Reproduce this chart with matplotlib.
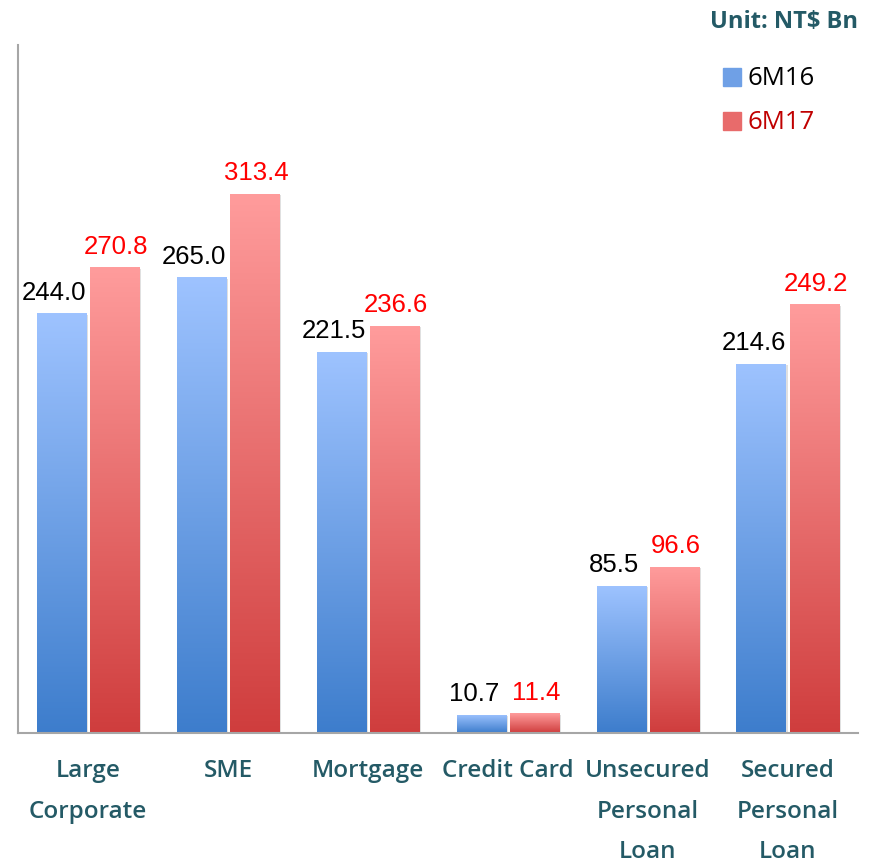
import numpy as np
import matplotlib.pyplot as plt
from matplotlib.colors import LinearSegmentedColormap
from matplotlib.patches import Rectangle

categories = ["Large\nCorporate", "SME", "Mortgage", "Credit Card",
              "Unsecured\nPersonal\nLoan", "Secured\nPersonal\nLoan"]
v_6m16 = [244.0, 265.0, 221.5, 10.7, 85.5, 214.6]
v_6m17 = [270.8, 313.4, 236.6, 11.4, 96.6, 249.2]

teal = "#245a66"
blue_cmap = LinearSegmentedColormap.from_list("b", ["#3d7dcc", "#9ec3ff"])
red_cmap = LinearSegmentedColormap.from_list("r", ["#cf3d3d", "#ff9c9c"])
grad = np.linspace(0, 1, 256).reshape(-1, 1)

plt.rcParams['font.family'] = ['Open Sans', 'DejaVu Sans']

fig = plt.figure(figsize=(8.71, 8.63), dpi=100)
ax = fig.add_axes([0.0207, 0.1506, 0.9643, 0.7973])

x = np.arange(len(categories))
w = 0.355
off = 0.19


def grad_bars(xs, vals, cmap):
    bars = ax.bar(xs, vals, w, color="none", edgecolor="none", zorder=2)
    for b in bars:
        bx, by = b.get_x(), b.get_y()
        bw, bh = b.get_width(), b.get_height()
        # soft shadow on the right
        sh = Rectangle((bx + 0.012, by), bw, bh - 0.8, color="#000000",
                       alpha=0.12, lw=0, zorder=1)
        ax.add_patch(sh)
        im = ax.imshow(grad, cmap=cmap, aspect="auto", origin="lower",
                       extent=(bx, bx + bw, by, by + bh), zorder=2)
        im.set_clip_path(b)
    return bars


grad_bars(x - off, v_6m16, blue_cmap)
grad_bars(x + off, v_6m17, red_cmap)

for i in range(len(categories)):
    ax.text(x[i] - off - 0.05, v_6m16[i] + 5, f"{v_6m16[i]:.1f}", ha="center",
            va="bottom", fontsize=18.5, color="black", family=["Liberation Sans"])
    ax.text(x[i] + off + 0.01, v_6m17[i] + 5, f"{v_6m17[i]:.1f}", ha="center",
            va="bottom", fontsize=18.5, color="#ff0000", family=["Liberation Sans"])

ax.set_xlim(-0.5, len(categories) - 0.5)
ax.set_ylim(0, 400)
ax.set_xticks(x)
ax.set_xticklabels(categories, fontsize=17.5, color=teal, linespacing=1.9,
                   fontweight="semibold")
ax.tick_params(axis="x", length=0, pad=19)
ax.set_yticks([])
for s in ["top", "right"]:
    ax.spines[s].set_visible(False)
for s in ["left", "bottom"]:
    ax.spines[s].set_color("#a6a6a6")
    ax.spines[s].set_linewidth(1.5)

fig.text(0.985, 0.974, "Unit: NT$ Bn", ha="right", va="center", fontsize=17,
         fontweight="bold", color=teal)

# legend
fig.add_artist(Rectangle((0.830, 0.900), 0.0207, 0.0209, transform=fig.transFigure,
                         color="#6fa0e6"))
fig.add_artist(Rectangle((0.830, 0.849), 0.0207, 0.0209, transform=fig.transFigure,
                         color="#e86b6b"))
fig.text(0.858, 0.909, "6M16", ha="left", va="center", fontsize=18.5, color="black")
fig.text(0.858, 0.858, "6M17", ha="left", va="center", fontsize=18.5, color="#c00000")

fig.savefig("out.png", dpi=100)
